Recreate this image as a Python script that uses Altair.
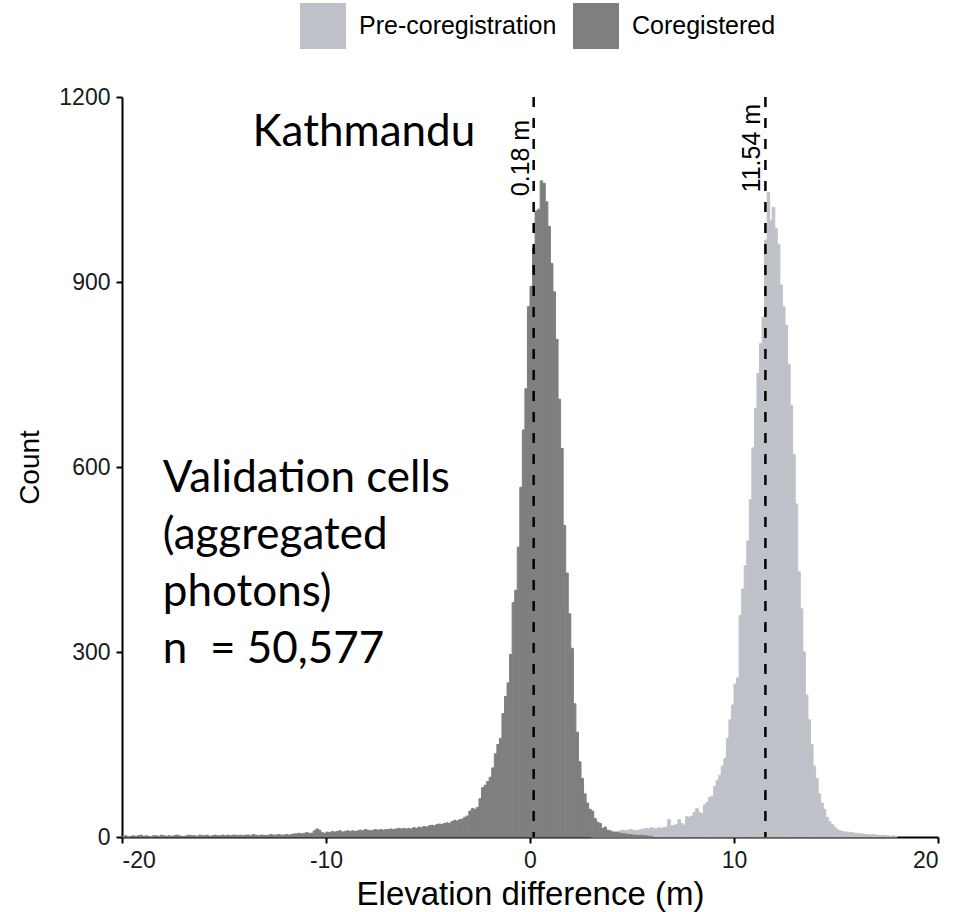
import altair as alt
import pandas as pd

BIN_W = 0.125

# ---- Coregistered histogram counts (bin width 0.125 m), in segments by starting edge
coreg_a_start = -20.0
coreg_a = [1, 2, 0, 1, 2, 1, 2, 3, 1, 2, 1, 0, 2, 2, 1, 3, 2, 1, 2, 1,
           2, 3, 2, 1, 1, 2, 3, 2, 2, 1, 3, 2, 2, 3, 1, 2, 3, 2, 2, 3,
           2, 3, 2, 3, 3, 2, 3, 2, 3, 3, 2, 4, 3, 2, 3, 3, 2, 3, 4, 3,
           3, 4, 3, 3, 4, 3, 4, 5]
coreg_b_start = -11.5
coreg_b = [5, 6, 5, 6, 7, 6, 6,
           10, 13, 11,
           7, 6,
           8, 7, 9, 8, 9, 10, 8, 9, 10, 9, 10, 9,
           10, 11, 10, 12, 11, 10, 11, 12, 11, 12, 11, 12, 12,
           13, 12, 13, 14, 13, 14, 13]
coreg_c_start = -6.0
coreg_c = [14, 13, 15, 14, 16, 15, 17, 16, 18, 19, 18, 20, 21, 20, 22, 23,
           22, 25, 27, 26, 28, 29, 32, 34]
coreg_d_start = -3.0
coreg_d = [42, 46, 45, 48, 62, 80, 84, 90, 97, 112,
           135, 150, 160, 200, 228, 250, 296, 380, 400, 470,
           567, 660, 727, 860, 893, 955, 1015, 1018, 1064, 1060,
           1030, 990, 930, 884, 807, 710, 630, 505, 428, 362,
           306, 216, 170, 122, 95, 70, 55, 45, 42, 30,
           24, 22, 14, 16, 11, 10, 8, 7, 7, 6,
           5, 5, 4, 4, 3, 3, 2, 3, 2, 2,
           1, 1]

# ---- Pre-coregistration histogram counts
pre_a_start = 3.0
pre_a = [4, 5, 5, 6, 6, 7, 7, 8, 8, 9, 9, 10]
pre_b_start = 4.5
pre_b = [11, 10, 11, 12, 11, 10, 11, 12]
pre_c_start = 5.5
pre_c = [13, 14, 13, 15, 14, 13, 15, 14, 15, 16]
pre_d_start = 6.75
pre_d = [28, 18, 19, 20, 28, 22, 19, 33, 32, 34,
         40, 46, 40, 38, 52, 56, 64, 66, 82, 92,
         100, 115, 127, 160, 190, 214, 248, 258, 359, 402,
         440, 480, 547, 631, 695, 752, 800, 843, 968, 1045,
         1000, 1021, 987, 961, 895, 860, 830, 766, 700, 620,
         540, 430, 370, 300, 230, 190, 150, 115, 95, 70,
         55, 45, 32, 25, 20, 16, 12, 10, 9, 8,
         8, 7, 7, 6, 6, 5, 5, 4, 4, 3,
         4, 3, 3, 2, 3, 2, 2, 1, 2, 1]

series_names = ["Pre-coregistration", "Coregistered"]
series_colors = ["#BEC2C8", "#7F7F7F"]

mean_values = [0.18, 11.54]
mean_labels = ["0.18 m", "11.54 m"]
mean_label_y = [1101, 1117]

site_name = "Kathmandu"
note_lines = ["Validation cells", "(aggregated", "photons)", "n\u00a0 = 50,577"]


def build(segments, name):
    rows = []
    for start, vals in segments:
        for i, v in enumerate(vals):
            s = start + i * BIN_W
            rows.append({"start": s, "end": s + BIN_W, "count": v, "series": name})
    return rows


pre_df = pd.DataFrame(build([(pre_a_start, pre_a), (pre_b_start, pre_b),
                             (pre_c_start, pre_c), (pre_d_start, pre_d)], series_names[0]))
coreg_df = pd.DataFrame(build([(coreg_a_start, coreg_a), (coreg_b_start, coreg_b),
                               (coreg_c_start, coreg_c), (coreg_d_start, coreg_d)], series_names[1]))
mean_df = pd.DataFrame({"value": mean_values, "label": mean_labels, "ly": mean_label_y})

xscale = alt.Scale(domain=[-20, 20], nice=False, zero=False)
yscale = alt.Scale(domain=[0, 1200], nice=False)
color_scale = alt.Scale(domain=series_names, range=series_colors)
color = alt.Color(
    "series:N",
    scale=color_scale,
    legend=alt.Legend(
        title=None, orient="none", legendX=178, legendY=-94, direction="horizontal",
        symbolType="square", symbolSize=2116, symbolStrokeWidth=0, symbolOpacity=1,
        labelFont="Liberation Sans", labelFontSize=25, labelColor="black", labelLimit=400,
        labelOffset=13, columnPadding=16, padding=0,
    ),
)

x_enc = alt.X("start:Q", scale=xscale,
              axis=alt.Axis(values=[-20, -10, 0, 10, 20], title="Elevation difference (m)",
                            titlePadding=6, titleFontSize=33, labelExpr="replace(datum.label, '−', '-')"))
y_enc = alt.Y("count:Q", scale=yscale,
              axis=alt.Axis(values=[0, 300, 600, 900, 1200], format="d", title="Count",
                            titlePadding=14, titleFontSize=28))

stroke = alt.Color("series:N", legend=None, scale=color_scale)

pre_bars = alt.Chart(pre_df).mark_rect(strokeWidth=1, opacity=1, fillOpacity=1, strokeOpacity=1).encode(
    x=x_enc, x2="end:Q", y=y_enc, y2=alt.datum(0), color=color, stroke=stroke
)
coreg_bars = alt.Chart(coreg_df).mark_rect(strokeWidth=1, opacity=1, fillOpacity=1, strokeOpacity=1).encode(
    x=x_enc, x2="end:Q", y=y_enc, y2=alt.datum(0), color=color, stroke=stroke
)

rules = alt.Chart(mean_df).mark_rule(color="black", strokeWidth=2.5, strokeDash=[10, 11]).encode(
    x=alt.X("value:Q", scale=xscale)
)
rule_labels = alt.Chart(mean_df).mark_text(
    angle=270, align="center", baseline="bottom", font="Liberation Sans", fontSize=25, color="black"
).encode(x=alt.X("value:Q", scale=xscale), y=alt.Y("ly:Q", scale=yscale), text="label:N")

site_text = alt.Chart(pd.DataFrame({"t": [site_name]})).mark_text(
    align="left", baseline="alphabetic", font="Lato", fontSize=44, color="black"
).encode(x=alt.datum(-13.6), y=alt.datum(1120), text="t:N")

note_text = alt.Chart(pd.DataFrame({"t": [0]})).mark_text(
    text=note_lines, align="left", baseline="alphabetic", font="Lato", fontSize=44,
    lineHeight=57, color="black"
).encode(x=alt.datum(-18.0), y=alt.datum(559))

chart = alt.layer(pre_bars, coreg_bars, rules, rule_labels, site_text, note_text).properties(
    width=816, height=740,
    autosize=alt.AutoSizeParams(type="none"),
    padding={"left": 122, "top": 97, "right": 17, "bottom": 75},
).configure_axis(
    domainColor="black", domainWidth=2, tickColor="black", tickWidth=2, tickSize=6,
    labelFont="Liberation Sans", labelFontSize=23, labelColor="#1a1a1a", labelPadding=6,
    titleFont="Liberation Sans", titleFontWeight="normal", titleColor="black",
    grid=False,
).configure_view(stroke=None)

chart.save("out.html", embed_options={"renderer": "svg", "actions": False})
